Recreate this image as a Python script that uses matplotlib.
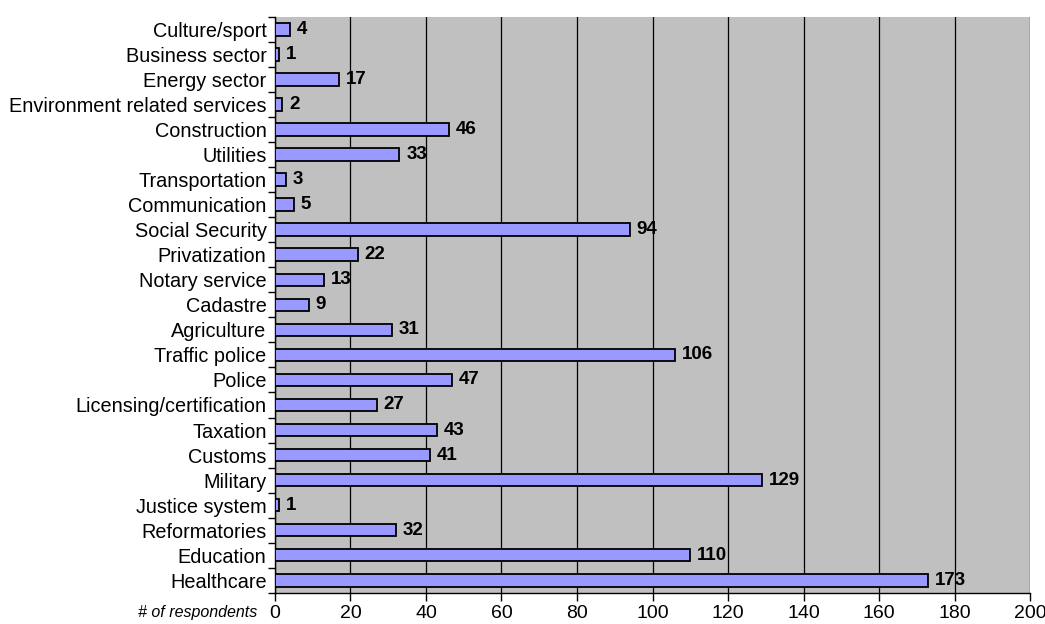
import matplotlib.pyplot as plt
import numpy as np

plt.rcParams['font.family'] = ['Liberation Sans', 'DejaVu Sans']

# bottom to top
categories = ["Healthcare", "Education", "Reformatories", "Justice system", "Military",
              "Customs", "Taxation", "Licensing/certification", "Police", "Traffic police",
              "Agriculture", "Cadastre", "Notary service", "Privatization", "Social Security",
              "Communication", "Transportation", "Utilities", "Construction",
              "Environment related services", "Energy sector", "Business sector", "Culture/sport"]
respondents = [173, 110, 32, 1, 129, 41, 43, 27, 47, 106, 31, 9, 13, 22, 94, 5, 3, 33, 46,
               2, 17, 1, 4]
x_ticks = [0, 20, 40, 60, 80, 100, 120, 140, 160, 180, 200]

fig = plt.figure(figsize=(10.45, 6.24), dpi=100)
ax = fig.add_axes([0.263, 0.05, 0.723, 0.923])
ax.set_facecolor('#C0C0C0')

y = np.arange(len(categories))
ax.barh(y, respondents, height=0.5, color='#9999FF', edgecolor='black', linewidth=1.3, zorder=3)
for yi, v in zip(y, respondents):
    ax.text(v + 1.8, yi, str(v), va='center', ha='left', fontsize=13.5, fontweight='bold', zorder=4)

ax.set_xlim(0, 200)
ax.set_ylim(-0.5, len(categories) - 0.5)
ax.set_xticks(x_ticks)
ax.tick_params(axis='x', labelsize=14, length=6, width=1, direction='out', pad=3)
ax.grid(axis='x', color='black', linewidth=0.9, zorder=1)

ax.set_yticks(y)
ax.set_yticklabels(categories)
ax.tick_params(axis='y', which='major', length=0, labelsize=14.3, pad=6)
ax.set_yticks(np.arange(-0.5, len(categories), 1), minor=True)
ax.tick_params(axis='y', which='minor', length=5, width=1, direction='out')

for s in ['top', 'right']:
    ax.spines[s].set_visible(False)
ax.spines['left'].set_linewidth(1)
ax.spines['bottom'].set_linewidth(1)

fig.text(0.246, 0.019, '# of respondents', style='italic', fontsize=11.5, ha='right', va='center')

plt.savefig('out.png', dpi=100)
